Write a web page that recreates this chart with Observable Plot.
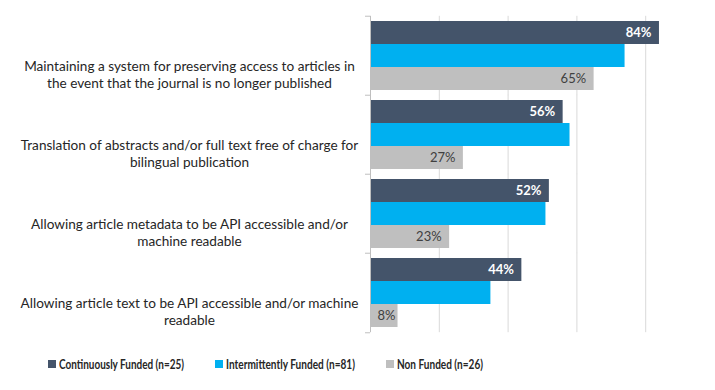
<!DOCTYPE html>
<html>
<head>
<meta charset="utf-8">
<script src="https://cdn.jsdelivr.net/npm/d3@7"></script>
<script src="https://cdn.jsdelivr.net/npm/@observablehq/plot@0.6"></script>
<style>
  html, body { margin: 0; padding: 0; background: #fff; }
  #chart { width: 715px; }
  .legend { position: relative; height: 50px; font-family: Lato, "Liberation Sans", sans-serif; font-size: 13px; font-weight: bold; color: #262626; }
  .legend .item { position: absolute; top: 16px; display: flex; align-items: center; white-space: nowrap; }
  .legend .sw { width: 8px; height: 8px; margin-right: 3px; flex: none; }
  .legend .txt { display: inline-block; transform-origin: left center; }
</style>
</head>
<body>
<div id="chart"></div>
<script>
const categories = [
  "Maintaining a system for preserving access to articles in\nthe event that the journal is no longer published",
  "Translation of abstracts and/or full text free of charge for\nbilingual publication",
  "Allowing article metadata to be API accessible and/or\nmachine readable",
  "Allowing article text to be API accessible and/or machine\nreadable"
];
const series = ["Continuously Funded (n=25)", "Intermittently Funded (n=81)", "Non Funded (n=26)"];
const continuous = [84, 56, 52, 44];
const intermittent = [74, 58, 51, 35];
const nonFunded = [65, 27, 23, 8];
const colors = ["#44546A", "#00B0F0", "#BFBFBF"];

const values = [continuous, intermittent, nonFunded];
const rows = [];
categories.forEach((c, i) => series.forEach((s, j) => rows.push({category: c, series: s, value: values[j][i]})));

const pad = 5.2;
const half = 69.4 / 6;
const grayRows = rows.filter(d => d.series === series[2]);
const chart = Plot.plot({
  width: 715,
  height: 340,
  marginTop: 14,
  marginBottom: 7,
  marginLeft: 370,
  marginRight: 1,
  style: {fontFamily: "Lato, 'Liberation Sans', sans-serif", fontSize: "13px"},
  x: {domain: [0, 100], axis: null},
  y: {domain: series, axis: null, padding: 0},
  fy: {domain: categories, axis: null, paddingInner: 0.13, paddingOuter: 0.065},
  color: {domain: series, range: colors},
  marks: [
    Plot.ruleX([20, 40, 60, 80], {stroke: "#d9d9d9", insetTop: -pad, insetBottom: -pad}),
    Plot.barX(rows, {x: "value", y: "series", fy: "category", fill: "series"}),
    Plot.ruleX([0], {stroke: "#bfbfbf", insetTop: -pad, insetBottom: -pad}),
    Plot.ruleY(categories, {fy: d => d, y: () => series[0], x1: 0, x2: 0, insetLeft: -5, dy: -half - pad, stroke: "#bfbfbf"}),
    Plot.ruleY(categories.slice(-1), {fy: d => d, y: () => series[2], x1: 0, x2: 0, insetLeft: -5, dy: half + pad, stroke: "#bfbfbf"}),
    Plot.text(categories, {fy: d => d, text: d => d, frameAnchor: "left", dx: -181, dy: 18, textAnchor: "middle", lineHeight: 1.3, fill: "#262626", fontSize: 13.6}),
    Plot.text(rows.filter(d => d.series === series[0]), {x: "value", y: "series", fy: "category", text: d => d.value + "%", textAnchor: "end", dx: -8, fill: "white", fontWeight: "bold", fontSize: 13}),
    Plot.text(grayRows.filter(d => d.value >= 10), {x: "value", y: "series", fy: "category", text: d => d.value + "%", textAnchor: "end", dx: -8, fill: "#404040", fontSize: 13}),
    Plot.text(grayRows.filter(d => d.value < 10), {x: () => 0, y: "series", fy: "category", text: d => d.value + "%", textAnchor: "start", dx: 7, fill: "#404040", fontSize: 13})
  ]
});
document.getElementById("chart").appendChild(chart);

const legend = document.createElement("div");
legend.className = "legend";
const lefts = [48, 215, 386];
const widths = [125, 129, 86];
document.getElementById("chart").appendChild(legend);
series.forEach((s, i) => {
  const it = document.createElement("div");
  it.className = "item";
  it.style.left = lefts[i] + "px";
  const sw = document.createElement("span");
  sw.className = "sw";
  sw.style.background = colors[i];
  const t = document.createElement("span");
  t.className = "txt";
  t.textContent = s;
  it.appendChild(sw); it.appendChild(t);
  legend.appendChild(it);
  const w = t.getBoundingClientRect().width;
  if (w > 0) t.style.transform = `scaleX(${widths[i] / w})`;
});
</script>
</body>
</html>
